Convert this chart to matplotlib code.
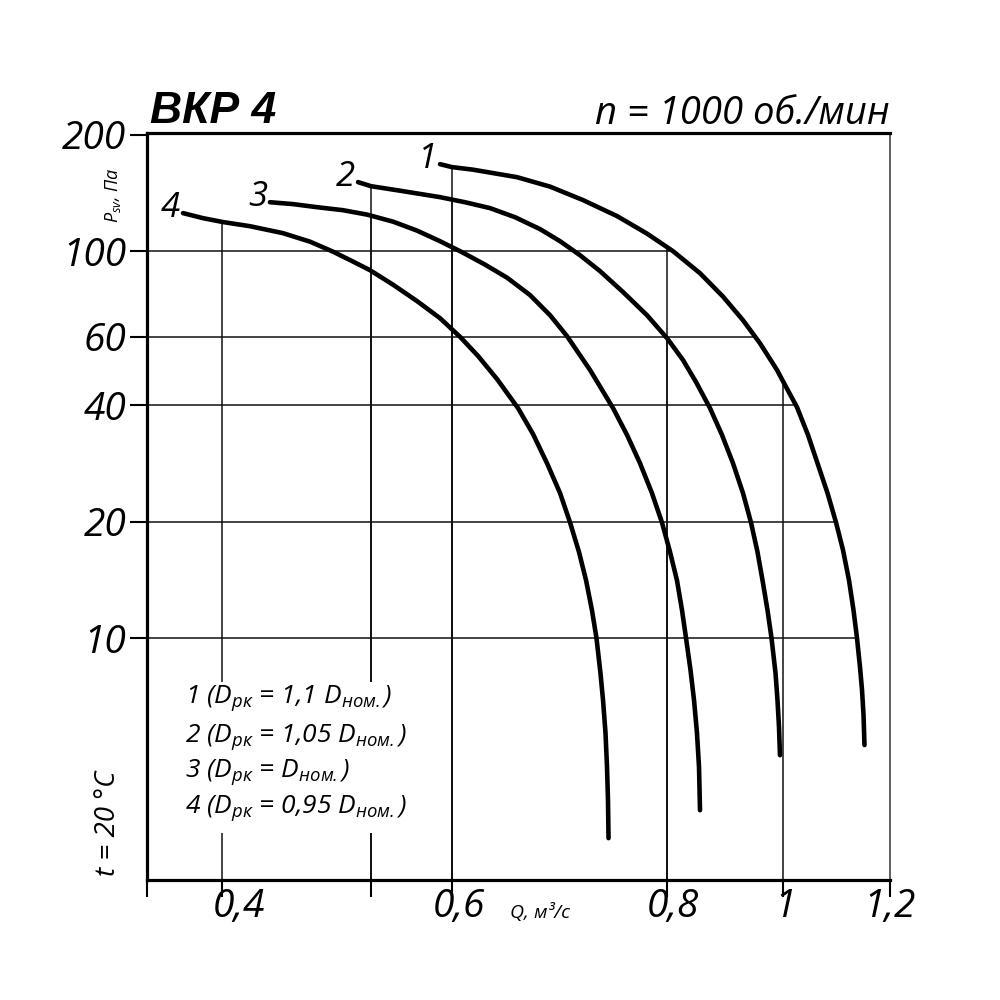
import numpy as np
import matplotlib
matplotlib.use('Agg')
import matplotlib.pyplot as plt
import matplotlib.transforms as mtransforms
from matplotlib.patches import Polygon, Rectangle

plt.rcParams['font.family'] = ['Open Sans', 'DejaVu Sans']
plt.rcParams['font.style'] = 'italic'
plt.rcParams['mathtext.fontset'] = 'custom'
plt.rcParams['mathtext.it'] = 'Open Sans:italic'
plt.rcParams['mathtext.rm'] = 'Open Sans:italic'
plt.rcParams['mathtext.bf'] = 'Open Sans:italic:bold'

# ---------------- data (Q in m3/s, P in Pa) ----------------
q1 = [0.5852, 0.600, 0.6195, 0.6605, 0.6912, 0.7219, 0.7535, 0.7814, 0.8103, 0.8569,
      0.8966, 0.9310, 0.9603, 0.9897, 1.000, 1.0262, 1.0467, 1.0645, 1.0832, 1.0991,
      1.1121, 1.1234, 1.1318, 1.1383, 1.1439, 1.1477, 1.1505, 1.1523]
p1 = [167.8, 164.9, 162.4, 155.3, 146.8, 135.5, 123.2, 111.0, 100.0, 87.7,
      76.3, 66.3, 57.8, 49.3, 46.1, 39.5, 33.5, 28.3, 23.7, 19.9,
      16.9, 14.1, 11.8, 10.0, 8.42, 7.34, 6.33, 5.29]

q2 = [0.4913, 0.500, 0.5358, 0.5852, 0.6121, 0.6353, 0.6586, 0.6819, 0.7005, 0.7191,
      0.7377, 0.7591, 0.7814, 0.800, 0.8276, 0.8500, 0.8741, 0.8948, 0.9138, 0.9310,
      0.9448, 0.9560, 0.9647, 0.9733, 0.9802, 0.9871, 0.9905, 0.9931, 0.9948]
p2 = [150.8, 147.2, 143.3, 137.9, 133.8, 129.2, 122.4, 114.0, 106.1, 97.6,
      88.8, 78.4, 68.3, 59.6, 52.3, 45.9, 39.3, 33.5, 28.3, 23.7,
      19.9, 16.7, 14.1, 11.8, 10.0, 8.12, 6.91, 5.89, 4.98]

q3 = [0.4322, 0.4477, 0.4638, 0.4812, 0.4973, 0.5272, 0.5568, 0.5852, 0.6093, 0.6307,
      0.6512, 0.6726, 0.6912, 0.7070, 0.7284, 0.7498, 0.7628, 0.7749, 0.7860, 0.7953,
      0.8052, 0.8172, 0.8259, 0.8328, 0.8405, 0.8466, 0.8517, 0.8552, 0.8569]
p3 = [133.8, 132.3, 129.9, 127.6, 124.3, 119.2, 113.0, 106.1, 99.4, 92.3,
      85.4, 77.0, 68.3, 60.3, 49.3, 39.3, 33.5, 28.3, 23.7, 19.9,
      16.7, 14.1, 11.8, 10.0, 8.27, 6.91, 5.68, 4.64, 3.59]

q4 = [0.3740, 0.3873, 0.4007, 0.4188, 0.4409, 0.4591, 0.4745, 0.4879, 0.4993, 0.5272,
      0.5568, 0.5852, 0.6074, 0.6242, 0.6419, 0.6614, 0.6753, 0.6884, 0.7005, 0.7098,
      0.7181, 0.7247, 0.7302, 0.7344, 0.7381, 0.7405, 0.7428, 0.7442, 0.7451, 0.7456]
p4 = [125.4, 121.7, 118.9, 116.0, 111.3, 105.8, 99.7, 94.0, 89.3, 81.9,
      74.3, 67.1, 60.1, 53.6, 46.7, 39.3, 33.7, 28.3, 23.7, 19.9,
      16.7, 14.1, 11.8, 10.0, 8.12, 6.91, 5.68, 4.64, 3.82, 3.04]

curve_names = ['1', '2', '3', '4']
legend_lines = [
    '1 (D$_{рк}$ = 1,1 D$_{ном.}$)',
    '2 (D$_{рк}$ = 1,05 D$_{ном.}$)',
    '3 (D$_{рк}$ = D$_{ном.}$)',
    '4 (D$_{рк}$ = 0,95 D$_{ном.}$)',
]

x_ticks = [0.35, 0.4, 0.5, 0.6, 0.8, 1.0, 1.2]
x_tick_labels = ['', '0,4', '', '0,6', '0,8', '1', '1,2']
y_ticks = [10, 20, 40, 60, 100, 200]
y_tick_labels = ['10', '20', '40', '60', '100', '200']
grid_x = [0.4, 0.5, 0.6, 0.8, 1.0]
grid_y = [10, 20, 40, 60, 100]

title_left = 'ВКР 4'
title_right = 'n = 1000 об./мин'
x_label = 'Q, м³/с'
y_label = 'P$_{sv}$, Па'
temp_label = 't = 20 °C'

# ---------------- axis scale (chart's own non-uniform Q axis) ----------------
scale_q = [0.35, 0.4, 0.5, 0.6, 0.8, 1.0, 1.2]
scale_pos = [0, 75, 224, 305, 520, 636, 743]


def fwd(q):
    return np.interp(q, scale_q, scale_pos)


def inv(p):
    return np.interp(p, scale_pos, scale_q)


xmin, xmax = 0.35, 1.2
ymin, ymax = 2.37, 202

fig = plt.figure(figsize=(10, 10), dpi=100)
ax = fig.add_axes([0.147, 0.120, 0.743, 0.747])
ax.set_xscale('function', functions=(fwd, inv))
ax.set_yscale('log')
ax.set_xlim(xmin, xmax)
ax.set_ylim(ymin, ymax)

curves = [(q1, p1), (q2, p2), (q3, p3), (q4, p4)]

# horizontal grid lines: clipped to the region left of / below curve 1
hverts = [(xmin, ymin), (xmin, ymax), (q1[0], ymax)] + list(zip(q1, p1)) + [(q1[-1], ymin)]
hpoly = Polygon(hverts, closed=True, transform=ax.transData, fc='none', ec='none')
for yv in grid_y:
    ln = ax.axhline(yv, color='#111111', lw=1.1, zorder=1)
    ln.set_clip_path(hpoly)

# vertical grid lines: clipped to the region under the curves
for q, p in curves:
    vverts = [(q[0], ymin)] + list(zip(q, p)) + [(q[-1], ymin)]
    vpoly = Polygon(vverts, closed=True, transform=ax.transData, fc='none', ec='none')
    for xv in grid_x:
        if q[0] <= xv <= q[-1]:
            ln = ax.axvline(xv, color='#111111', lw=1.1, zorder=1)
            ln.set_clip_path(vpoly)

# curves
for (q, p), name in zip(curves, curve_names):
    ax.plot(q, p, color='black', lw=3.3, solid_capstyle='round',
            solid_joinstyle='round', zorder=3)
    ax.annotate(name, xy=(q[0], p[0]), xytext=(-2, 4), textcoords='offset points',
                ha='right', va='center', fontsize=25, fontstyle='italic', zorder=4)

# legend box (white, masks grid)
ax.add_patch(Rectangle((0.044, 0.063), 0.303, 0.202, transform=ax.transAxes,
                       fc='white', ec='none', zorder=2))
legend_y = [0.237, 0.185, 0.138, 0.090]
for txt, yy in zip(legend_lines, legend_y):
    ax.text(0.051, yy, txt, transform=ax.transAxes, fontsize=19, fontstyle='italic',
            ha='left', va='baseline', zorder=5)

# ticks
ax.set_xticks(x_ticks)
ax.set_xticklabels(x_tick_labels)
ax.xaxis.set_minor_locator(matplotlib.ticker.NullLocator())
ax.set_yticks(y_ticks)
ax.set_yticklabels(y_tick_labels)
ax.yaxis.set_minor_locator(matplotlib.ticker.NullLocator())
ax.tick_params(axis='both', direction='out', length=12, width=1.5, color='black',
               labelsize=28)
ax.tick_params(axis='x', pad=-6)
ax.tick_params(axis='y', pad=3)
for lab in ax.get_xticklabels() + ax.get_yticklabels():
    lab.set_fontstyle('italic')

# small horizontal nudges of x tick labels, as in the original artwork
label_shift_px = [0, 17, 0, 7, 6, 2, 0]
for lab, dx in zip(ax.get_xticklabels(), label_shift_px):
    lab.set_transform(lab.get_transform() +
                      mtransforms.ScaledTranslation(dx / 100, 0, fig.dpi_scale_trans))

for side in ['left', 'top', 'bottom']:
    ax.spines[side].set_linewidth(2.3)
ax.spines['right'].set_linewidth(1.2)
ax.spines['right'].set_color('#444444')

# labels
ax.text(0.4886, -0.051, x_label, transform=ax.transAxes, fontsize=14,
        fontstyle='italic', ha='left', va='baseline')
ax.text(-0.046, 0.917, y_label, transform=ax.transAxes, fontsize=13,
        fontstyle='italic', ha='center', va='center', rotation=90)
ax.text(-0.052, 0.076, temp_label, transform=ax.transAxes, fontsize=20,
        fontstyle='italic', ha='center', va='center', rotation=90)

fig.text(0.150, 0.877, title_left, family='Liberation Sans', fontweight='bold',
         fontstyle='italic', fontsize=32, ha='left', va='baseline')
fig.text(0.890, 0.876, title_right, fontsize=27.5, fontstyle='italic',
         ha='right', va='baseline')

fig.savefig('out.png', dpi=100)
